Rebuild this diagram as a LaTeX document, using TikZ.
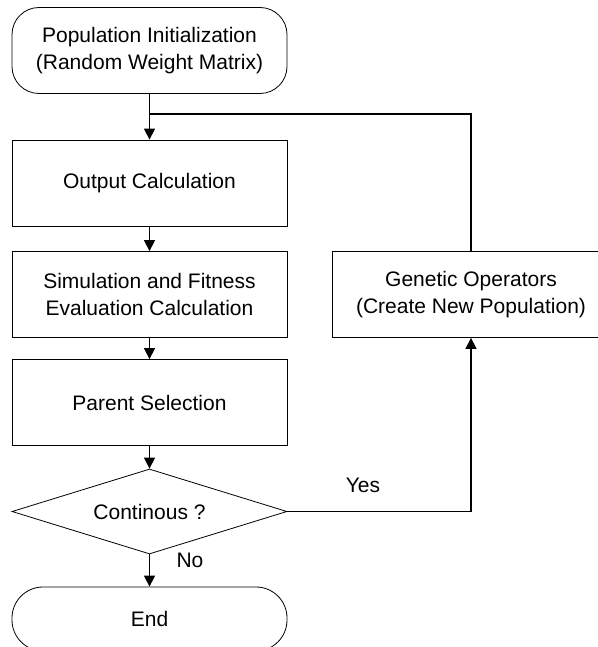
\documentclass[tikz,border=0pt]{standalone}
\usepackage{fontspec}
\setmainfont{Liberation Sans}
\usepackage{tikz}
\usetikzlibrary{arrows.meta}
\usetikzlibrary{shapes.geometric}

\begin{document}
\begin{tikzpicture}[x=1pt, y=-1pt,
  every node/.style={font=\fontsize{21}{27}\selectfont, align=center},
  kasten/.style={draw, line width=0.8pt, minimum width=275pt, minimum height=86pt, inner sep=0pt},
  terminal/.style={kasten, rounded corners=27pt},
  frage/.style={draw, line width=0.8pt, diamond, aspect=3.24, minimum width=275pt, minimum height=85pt, inner sep=0pt},
  pfeil/.style={line width=1.4pt, -{Triangle[length=11pt,width=11pt]}},
  linie/.style={line width=1.4pt}]

  % Rahmen
  \useasboundingbox (0,0) rectangle (597,647);

  % Knoten
  \node[terminal] (init) at (149.5,50.5) {Population Initialization\\(Random Weight Matrix)};
  \node[kasten] (output) at (149.5,183) {Output Calculation};
  \node[kasten] (fitness) at (149.5,294.5) {Simulation and Fitness\\Evaluation Calculation};
  \node[kasten] (parent) at (149.5,402.5) {Parent Selection};
  \node[frage] (cont) at (149.5,511.5) {Continous ?};
  \node[terminal, minimum height=64pt, rounded corners=31pt] (ende) at (149.5,619) {End};
  \node[kasten, minimum width=278pt] (genetic) at (471,294.5) {Genetic Operators\\(Create New Population)};

  % Hilfspunkt der Rueckfuehrung
  \coordinate (knick) at (471,114);

  % Pfeile
  \draw[pfeil] (init) -- (output);
  \draw[pfeil] (output) -- (fitness);
  \draw[pfeil] (fitness) -- (parent);
  \draw[pfeil] (parent) -- (cont);
  \draw[pfeil] (cont) -- (ende);
  \draw[pfeil] (cont.east) -| (genetic.south);
  \draw[linie] (genetic.north) -- (knick) -- (knick -| init.south);

  % Beschriftungen
  \node (ja) at (363,485) {Yes};
  \node (nein) at (190,560) {No};

\end{tikzpicture}
\end{document}
